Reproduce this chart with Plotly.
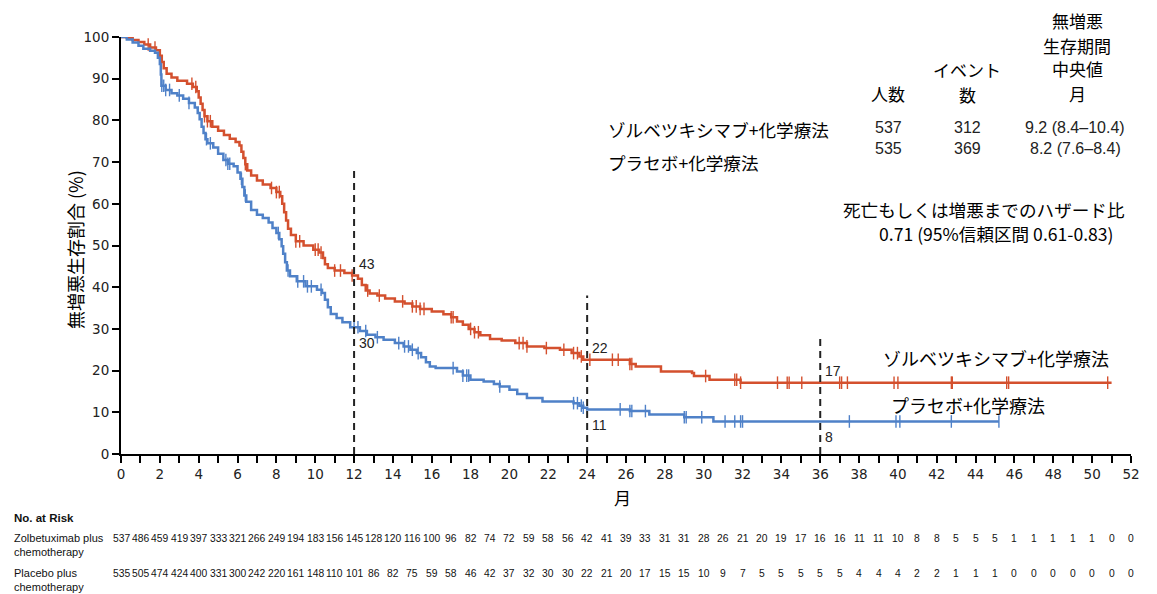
import numpy as np
import plotly.graph_objects as go

# ---------------- data ----------------
zol_times = [0, 0.3, 0.6, 0.9, 1.2, 1.5, 1.8, 2.0, 2.1, 2.2, 2.35, 2.6, 2.9, 3.4, 3.7, 3.9, 4.0,
             4.1, 4.2, 4.3, 4.45, 4.7, 5.0, 5.3, 5.6, 5.9, 6.1, 6.2, 6.3, 6.4, 6.5, 6.7, 7.0, 7.3,
             7.7, 8.0, 8.2, 8.3, 8.4, 8.5, 8.6, 8.75, 9.0, 9.4, 9.9, 10.2, 10.4, 10.5, 10.65, 11.0,
             11.5, 11.9, 12.2, 12.4, 12.6, 12.8, 13.2, 13.6, 14.1, 14.6, 15.0, 15.4, 16.0, 16.6,
             17.0, 17.3, 17.6, 17.9, 18.2, 18.5, 19.0, 19.6, 20.3, 20.9, 21.8, 22.6, 23.2, 23.6,
             23.8, 26.2, 26.5, 27.8, 29.4, 29.5, 30.3, 31.9]
zol_surv = [100, 99.8, 99.3, 98.8, 98.2, 97.5, 96.8, 95.5, 94, 92.5, 91.2, 90.3, 89.5, 88.8, 88.0,
            87, 85.5, 84, 82.5, 81, 79.8, 78.5, 77.5, 76.5, 75.6, 74.8, 74.0, 72.5, 71, 69.5, 68,
            66.8, 65.6, 64.6, 63.8, 62.8, 61.8, 60, 58, 56, 54, 52.5, 51, 50, 49, 48.3, 47, 45.5,
            44.6, 44, 43.4, 42.8, 42, 40.5, 39.2, 38.5, 38, 37.3, 36.6, 36.1, 35.4, 34.8, 34.2,
            33.5, 32.8, 31.8, 31, 30, 29.2, 28.5, 27.6, 27.2, 26.6, 25.8, 25.4, 25.0, 24.2, 23.4,
            22.6, 21.6, 21.0, 19.8, 19.4, 18.7, 17.8, 17.1]
zol_end = 51.0
zol_censor = [1.4, 1.75, 3.65, 3.85, 4.3, 4.45, 4.6, 6.4, 7.75, 8.0, 8.15, 9.0, 9.2, 10.0, 10.15,
              10.3, 11.0, 11.3, 11.9, 12.7, 13.3, 14.5, 15.0, 15.2, 15.4, 15.6, 17.0, 17.1, 18.0,
              18.2, 18.4, 20.5, 20.7, 20.9, 21.9, 22.8, 23.3, 23.5, 23.7,
              24.14, 25.3, 25.6, 26.2, 26.3, 30.1, 31.6, 31.7, 31.9, 33.8, 34.3, 34.4, 35.05,
              37.0, 37.1, 37.4, 39.8, 40.0, 42.75, 42.8, 45.6, 45.7, 50.8]

pbo_times = [0, 0.3, 0.6, 0.9, 1.15, 1.5, 1.75, 1.9, 2.0, 2.05, 2.08, 2.3, 2.6, 2.9, 3.2, 3.5, 3.8,
             3.95, 4.05, 4.15, 4.25, 4.35, 4.45, 4.75, 5.0, 5.27, 5.5, 5.8, 6.0, 6.15, 6.25, 6.35,
             6.45, 6.7, 7.0, 7.3, 7.6, 7.8, 8.0, 8.15, 8.27, 8.35, 8.45, 8.54, 8.7, 9.05, 9.5,
             10.09, 10.35, 10.5, 10.65, 10.8, 11.1, 11.4, 11.8, 12.3, 12.66, 13.1, 13.52, 14.1,
             14.55, 14.9, 15.23, 15.45, 15.7, 15.9, 16.2, 17.3, 17.6, 17.99, 18.67, 19.2, 19.5,
             20.0, 20.4, 20.9, 21.7, 23.3, 23.6, 23.8, 24.0, 26.2, 27.2, 29.0, 30.5]
pbo_surv = [100, 99.4, 98.7, 97.9, 97.2, 96.7, 96.2, 95, 93.5, 91, 88.3, 87.3, 86.5, 86.0, 85.2,
            84.2, 83.1, 81.8, 80.3, 78.5, 77, 75.5, 74.5, 73.5, 72, 70.5, 69.6, 69, 67.5, 66, 64,
            62, 60.5, 58.5, 57.4, 56.6, 55.5, 54.2, 53, 51.5, 49.8, 48, 46, 44, 42.6, 41.4, 40.2,
            39.4, 38.6, 37, 35.2, 33.6, 32.6, 31.6, 30.4, 29.5, 28.6, 28.0, 27.4, 26.6, 25.8,
            25.0, 24.2, 23.2, 22.0, 21.0, 20.6, 19.8, 18.8, 17.8, 17.4, 16.8, 16.2, 15.4, 14.4,
            13.4, 12.6, 12.2, 11.6, 11.1, 10.7, 10.3, 9.5, 8.8, 7.8]
pbo_end = 45.2
pbo_censor = [2.1, 2.2, 2.3, 2.5, 3.0, 3.5, 4.4, 4.6, 5.4, 5.5, 5.6, 6.2, 6.4, 8.1, 8.6, 9.1, 9.4,
              9.6, 9.8, 10.3, 12.0, 12.2, 12.6, 13.2, 14.3, 14.6, 14.8, 15.0, 15.3, 17.1, 17.6,
              17.8, 17.9, 19.5, 23.3, 23.5, 23.7, 23.8,
              25.7, 26.2, 26.3, 27.0, 29.0, 29.1, 29.9, 31.1, 31.6, 31.9, 32.0, 37.5, 39.9, 40.1,
              42.75, 45.2]

risk_months = list(range(0, 53))
risk_zol = [537, 486, 459, 419, 397, 333, 321, 266, 249, 194, 183, 156, 145, 128, 120, 116, 100, 96,
            82, 74, 72, 59, 58, 56, 42, 41, 39, 33, 31, 31, 28, 26, 21, 20, 19, 17, 16, 16, 11, 11,
            10, 8, 8, 5, 5, 5, 1, 1, 1, 1, 1, 0, 0]
risk_pbo = [535, 505, 474, 424, 400, 331, 300, 242, 220, 161, 148, 110, 101, 86, 82, 75, 59, 58,
            46, 42, 37, 32, 30, 30, 22, 21, 20, 17, 15, 15, 10, 9, 7, 5, 5, 5, 5, 5, 4, 4, 4, 2, 2,
            1, 1, 1, 0, 0, 0, 0, 0, 0, 0]

landmark_months = [12, 24, 36]
landmark_tops = [69, 38, 28]
landmark_zol = ["43", "22", "17"]
landmark_pbo = ["30", "11", "8"]

name_zol = "ゾルベツキシマブ+化学療法"
name_pbo = "プラセボ+化学療法"

RED = "#D4502E"
BLUE = "#4F81C8"
JP = "Noto Sans CJK JP"
SMALL = "Liberation Sans Narrow, Liberation Sans, Arial"

# ---------------- layout geometry ----------------
W, H = 1157, 594
L, R, T, B = 121, 26, 37, 140
PW, PH = W - L - R, H - T - B


def px(x):
    return (x - L) / PW


def py(y):
    return (H - B - y) / PH


def step_at(times, vals, t):
    i = np.searchsorted(np.array(times), t, side="right") - 1
    return vals[max(i, 0)]


fig = go.Figure()

for times, surv, end, cens, col in [(zol_times, zol_surv, zol_end, zol_censor, RED),
                                     (pbo_times, pbo_surv, pbo_end, pbo_censor, BLUE)]:
    fig.add_trace(go.Scatter(x=times + [end], y=surv + [surv[-1]], mode="lines",
                             line=dict(color=col, width=2.5, shape="hv"),
                             cliponaxis=False, showlegend=False, hoverinfo="skip"))
    fig.add_trace(go.Scatter(x=cens, y=[step_at(times, surv, c) for c in cens], mode="markers",
                             marker=dict(symbol="line-ns", size=9,
                                         line=dict(color=col, width=1.4)),
                             cliponaxis=False, showlegend=False, hoverinfo="skip"))

shapes = []
annotations = []
for m, top, lz, lp in zip(landmark_months, landmark_tops, landmark_zol, landmark_pbo):
    shapes.append(dict(type="line", xref="x", yref="y", x0=m, x1=m, y0=0, y1=top,
                       line=dict(color="#222222", width=2, dash="7px,5px")))
    vz = step_at(zol_times, zol_surv, m)
    vp = step_at(pbo_times, pbo_surv, m)
    annotations.append(dict(x=m, y=vz, xref="x", yref="y", text=lz, showarrow=False,
                            xanchor="left", yanchor="bottom", xshift=3, yshift=2,
                            font=dict(size=14, family="Liberation Sans", color="#222")))
    annotations.append(dict(x=m, y=vp, xref="x", yref="y", text=lp, showarrow=False,
                            xanchor="left", yanchor="top", xshift=3, yshift=-6,
                            font=dict(size=14, family="Liberation Sans", color="#222")))


def ann(x, y, text, size=18, xanchor="center", family=JP, color="black"):
    annotations.append(dict(x=px(x), y=py(y), xref="paper", yref="paper", text=text,
                            showarrow=False, xanchor=xanchor, yanchor="middle",
                            font=dict(size=size, family=family, color=color)))


# top-right summary table
ann(1077, 20, "無増悪", 17)
ann(1077, 45, "生存期間", 17)
ann(1077, 69, "中央値", 17)
ann(1077, 93, "月", 17)
ann(967, 70, "イベント", 17)
ann(967, 94, "数", 17)
ann(888, 93, "人数", 17)
ann(606, 130, name_zol, 17.6, "left")
ann(606, 162, name_pbo, 17.6, "left")
ann(888, 127, "537", 16, family="Liberation Sans", color="#222")
ann(967, 127, "312", 16, family="Liberation Sans", color="#222")
ann(1075, 127, "9.2 (8.4–10.4)", 16, family="Liberation Sans", color="#222")
ann(888, 148, "535", 16, family="Liberation Sans", color="#222")
ann(967, 148, "369", 16, family="Liberation Sans", color="#222")
ann(1075, 148, "8.2 (7.6–8.4)", 16, family="Liberation Sans", color="#222")
ann(984, 209, "死亡もしくは増悪までのハザード比", 17.6)
ann(996, 234, "0.71 (95%信頼区間 0.61-0.83)", 17.6)

# curve labels
ann(881, 358, name_zol, 18, "left")
ann(889, 405, name_pbo, 18, "left")

# axis titles
ann(622, 497, "月", 17)
annotations.append(dict(x=px(75), y=py(250), xref="paper", yref="paper", text="無増悪生存割合 (%)",
                        showarrow=False, textangle=-90, xanchor="center", yanchor="middle",
                        font=dict(size=18, family=JP, color="black")))

# at-risk table
ann(12, 518, "<b>No. at Risk</b>", 11.5, "left", family=SMALL, color="#111")
ann(12, 538, "Zolbetuximab plus", 11, "left", family=SMALL, color="#111")
ann(12, 552, "chemotherapy", 11, "left", family=SMALL, color="#111")
ann(12, 573, "Placebo plus", 11, "left", family=SMALL, color="#111")
ann(12, 587, "chemotherapy", 11, "left", family=SMALL, color="#111")
for m, a, b in zip(risk_months, risk_zol, risk_pbo):
    for v, yy in [(a, 538), (b, 573)]:
        annotations.append(dict(x=m, y=py(yy), xref="x", yref="paper", text=str(v),
                                showarrow=False, xanchor="center", yanchor="middle",
                                font=dict(size=10.3, family=SMALL, color="#111")))

fig.update_layout(
    width=W, height=H, margin=dict(l=L, r=R, t=T, b=B, pad=0),
    paper_bgcolor="white", plot_bgcolor="white",
    shapes=shapes, annotations=annotations, showlegend=False,
    xaxis=dict(range=[0, 52], tickmode="linear", tick0=0, dtick=2, ticks="outside",
               ticklen=7, tickwidth=2, tickcolor="black", showline=True, linecolor="black",
               linewidth=2, showgrid=False, zeroline=False,
               minor=dict(dtick=1, ticks="outside", ticklen=7, tickwidth=2, tickcolor="black",
                          showgrid=False),
               tickfont=dict(size=13.5, family="DejaVu Sans", color="#222")),
    yaxis=dict(range=[0, 100], tickmode="linear", tick0=0, dtick=10, ticks="outside",
               ticklen=7, tickwidth=2, tickcolor="black", showline=True, linecolor="black",
               linewidth=2, showgrid=False, zeroline=False,
               tickfont=dict(size=13.5, family="DejaVu Sans", color="#222")),
)

fig.write_html("out.html", config={"displayModeBar": False},
               post_script="document.body.style.margin='0';document.body.style.overflow='hidden';")
